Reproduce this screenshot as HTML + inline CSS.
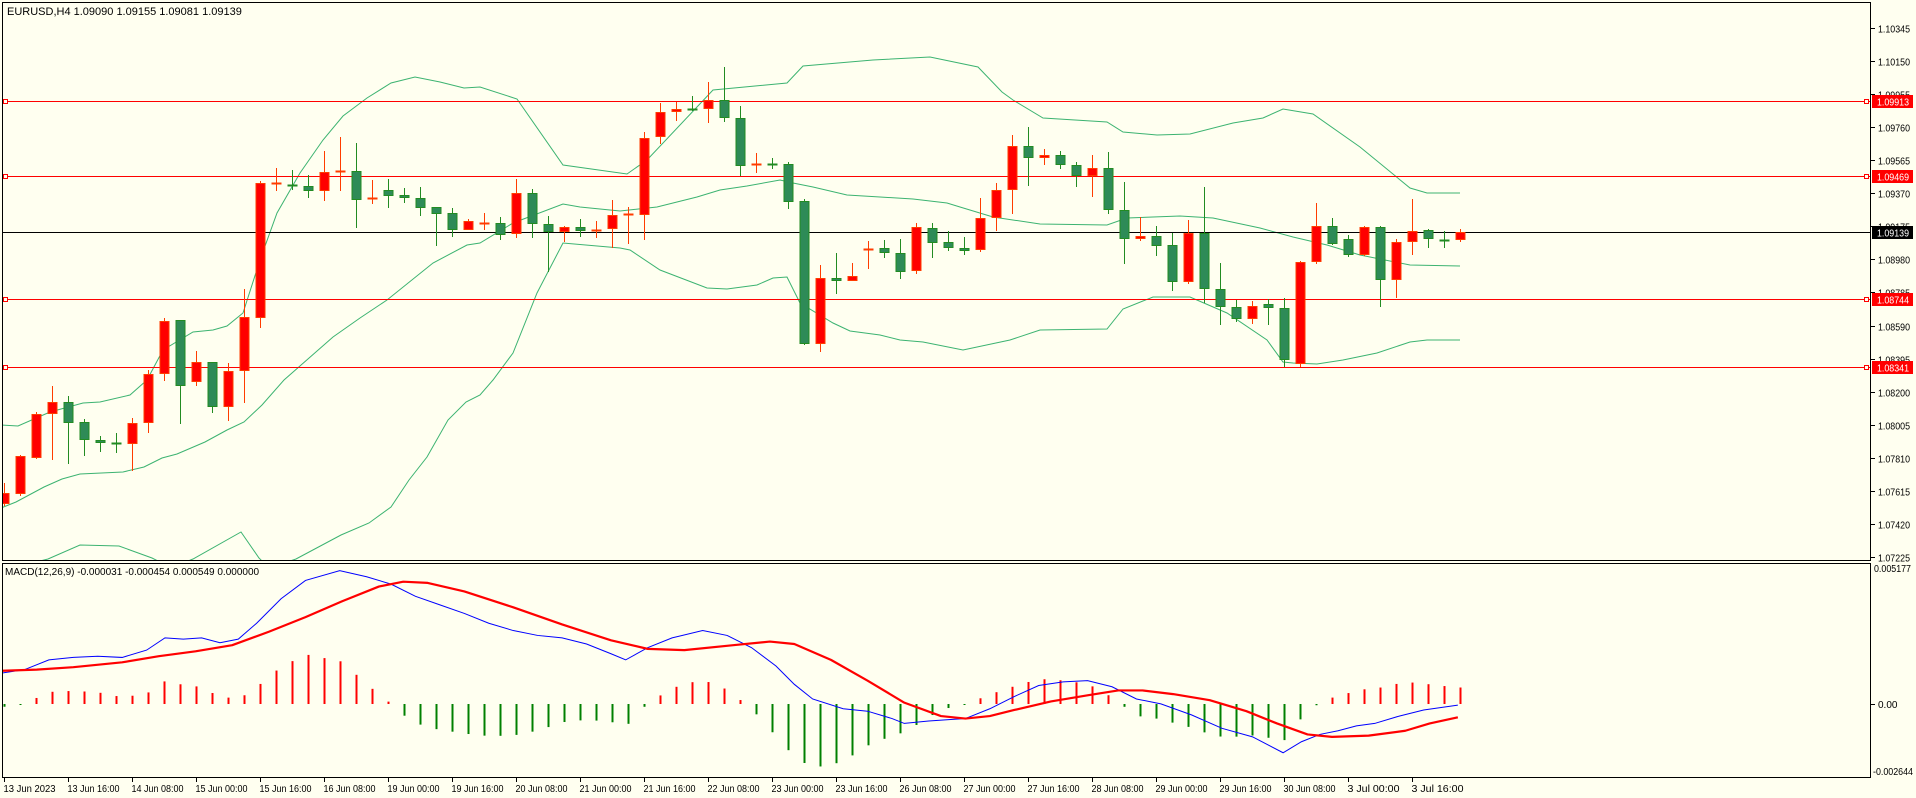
<!DOCTYPE html>
<html><head><meta charset="utf-8"><style>
html,body{margin:0;padding:0;background:#fffff0;}
svg{display:block;}
text{font-family:"Liberation Sans",sans-serif;}
</style></head><body>
<svg id="s" width="1916" height="798" xmlns="http://www.w3.org/2000/svg"></svg>
<script>
const S=document.getElementById('s');let h='';
h+='<rect x="0" y="0" width="1916" height="798" fill="#fffff0"/>';
const up=[[0,425],[18,426],[50,412],[83,403],[100,402],[130,395],[147,380],[163,350],[193,332],[213,330],[227,326],[243,313],[260,260],[277,213],[300,173],[323,140],[343,116],[367,98],[391,83],[415,77],[440,82],[464,88],[480,87],[517,99],[563,165],[627,174],[647,160],[713,90],[787,83],[803,66],[873,60],[930,57],[978,67],[1002,92],[1013,100],[1043,118],[1107,122],[1123,132],[1157,135],[1190,134],[1233,123],[1263,118],[1283,109],[1313,114],[1360,147],[1410,188],[1427,193],[1460,193]];
const mid=[[1,508],[16,502],[44,487],[62,479],[80,474],[123,472],[144,467],[162,458],[177,454],[205,442],[227,430],[244,422],[262,405],[284,380],[333,337],[360,318],[387,300],[433,263],[467,245],[480,243],[513,223],[563,204],[580,207],[620,211],[657,207],[697,197],[720,190],[747,186],[780,180],[793,183],[813,187],[847,195],[880,197],[913,199],[947,203],[960,207],[993,217],[1040,224],[1107,225],[1127,218],[1153,217],[1180,216],[1213,218],[1260,228],[1293,237],[1327,245],[1360,255],[1410,265],[1460,266]];
const lo1=[[40,561],[48,559],[80,545],[119,546],[152,558],[158,561]];
const lo2=[[188,561],[193,559],[241,532],[259,558],[262,561]];
const lo3=[[290,561],[296,559],[341,535],[369,523],[391,507],[409,480],[427,457],[448,420],[466,402],[480,395],[493,380],[513,353],[537,293],[563,243],[620,248],[630,250],[660,270],[707,288],[727,289],[757,285],[773,278],[787,277],[800,303],[833,323],[850,331],[880,335],[900,340],[923,342],[963,350],[1010,340],[1040,330],[1107,329],[1123,309],[1153,297],[1190,297],[1227,313],[1267,340],[1283,362],[1293,363],[1317,364],[1343,360],[1377,353],[1410,342],[1427,340],[1460,340]];
h+='<clipPath id="cp"><rect x="3" y="3" width="1867" height="557"/></clipPath><g clip-path="url(#cp)">';
for(const p of [up,mid,lo1,lo2,lo3]) h+='<polyline fill="none" stroke="#3cb371" stroke-width="1" points="'+p.map(a=>a.join(',')).join(' ')+'"/>';
h+='<line x1="3" x2="1870" y1="232.5" y2="232.5" stroke="#000" stroke-width="1"/>';
const hl=[101.5,176.5,299.5,367.5];
for(const y of hl){h+='<line x1="3" x2="1870" y1="'+y+'" y2="'+y+'" stroke="#ff0000" stroke-width="1"/>';
h+='<rect x="3.5" y="'+(y-2)+'" width="4" height="4" fill="#fffff0" stroke="#ff0000"/>';
h+='<rect x="1864.5" y="'+(y-2)+'" width="4" height="4" fill="#fffff0" stroke="#ff0000"/>';}
const C=[[493,504,483,506,'r'],[456,494,455,496,'r'],[414,458,412,459,'r'],[402,414,386,460,'r'],[402,423,396,464,'g'],[422,440,419,456,'g'],[440,443,436,452,'g'],[443,444,433,453,'g'],[423,444,418,471,'r'],[374,423,370,433,'r'],[321,374,318,381,'r'],[320,386,320,424,'g'],[362,382,351,386,'r'],[362,407,362,413,'g'],[371,407,363,421,'r'],[317,371,289,403,'r'],[183,318,181,328,'r'],[183,184,168,191,'r'],[185,186,170,190,'g'],[186,191,175,198,'g'],[172,191,151,201,'r'],[171,172,137,191,'r'],[171,200,143,228,'g'],[198,199,180,204,'r'],[190,196,179,208,'g'],[195,198,188,203,'g'],[198,208,187,216,'g'],[207,214,207,246,'g'],[213,230,208,237,'g'],[221,230,219,230,'r'],[223,224,213,230,'r'],[223,235,217,240,'g'],[193,234,179,238,'r'],[193,224,189,238,'g'],[224,232,216,272,'g'],[227,232,226,242,'r'],[227,231,219,237,'g'],[230,231,221,238,'r'],[215,229,200,248,'r'],[214,215,207,244,'r'],[138,215,132,240,'r'],[112,137,103,144,'r'],[109,112,102,121,'r'],[109,110,96,111,'g'],[100,109,82,123,'r'],[100,118,67,122,'g'],[118,166,106,176,'g'],[164,165,153,173,'r'],[164,165,158,169,'g'],[164,202,162,209,'g'],[201,344,199,345,'g'],[278,344,265,352,'r'],[278,281,253,294,'g'],[276,281,263,281,'r'],[249,250,241,269,'r'],[248,253,240,258,'g'],[253,272,239,279,'g'],[227,271,223,274,'r'],[228,243,223,258,'g'],[242,248,231,251,'g'],[248,251,237,255,'g'],[218,250,198,252,'r'],[190,218,183,231,'r'],[146,190,135,214,'r'],[146,158,127,186,'g'],[155,158,149,165,'r'],[155,165,151,169,'g'],[165,176,162,187,'g'],[168,176,155,197,'r'],[168,210,152,214,'g'],[210,239,182,264,'g'],[236,239,217,241,'r'],[236,246,226,256,'g'],[245,282,233,291,'g'],[233,282,220,284,'r'],[233,289,187,303,'g'],[289,307,263,325,'g'],[307,319,300,322,'g'],[306,319,301,324,'r'],[304,308,299,325,'g'],[308,360,298,367,'g'],[262,364,261,367,'r'],[226,262,203,264,'r'],[226,244,218,245,'g'],[239,255,235,257,'g'],[227,255,226,256,'r'],[227,280,226,307,'g'],[242,280,239,298,'r'],[231,242,199,255,'r'],[230,239,229,248,'g'],[240,241,231,248,'g'],[232,240,229,242,'r']];
C.forEach((c,i)=>{const x=Math.round(3.5+16*i)+0.5;const red=c[4]=='r';
const st=red?'#ff3c00':'#228b22',fl=red?'#ff0000':'#2e8b57';
h+='<line x1="'+x+'" x2="'+x+'" y1="'+c[2]+'" y2="'+c[3]+'" stroke="'+st+'"/>';
if(c[1]-c[0]<=1){h+='<rect x="'+(x-5)+'" y="'+(c[0]-0.5)+'" width="10" height="2" fill="'+st+'"/>';}
else h+='<rect x="'+(x-4.5)+'" y="'+(c[0]+0.5)+'" width="9" height="'+(c[1]-c[0]-1)+'" fill="'+fl+'" stroke="'+st+'"/>';});
h+='</g>';
h+='<rect x="2.5" y="2.5" width="1868" height="558" fill="none" stroke="#000"/>';
h+='<rect x="2.5" y="563.5" width="1868" height="214" fill="none" stroke="#000"/>';
for(let k=0;k<17;k++){const y=Math.round(28+k*33.06)+0.5;const p=(1.10345-k*0.00195).toFixed(5);
h+='<line x1="1871" x2="1875" y1="'+y+'" y2="'+y+'" stroke="#000"/>';
h+='<text x="1878" y="'+(y+4)+'" font-size="10.5" fill="#000" textLength="32" lengthAdjust="spacingAndGlyphs">'+p+'</text>';}
const labs=[[101.5,'1.09913','#ff0000'],[176.5,'1.09469','#ff0000'],[232.5,'1.09139','#000'],[299.5,'1.08744','#ff0000'],[367.5,'1.08341','#ff0000']];
for(const l of labs){h+='<rect x="1872" y="'+(l[0]-6.5)+'" width="41" height="13" fill="'+l[2]+'"/>';
h+='<text x="1877" y="'+(l[0]+4)+'" font-size="10.5" fill="#fff" textLength="32" lengthAdjust="spacingAndGlyphs">'+l[1]+'</text>';}
h+='<text x="7" y="15" font-size="11" fill="#000">EURUSD,H4  1.09090 1.09155 1.09081 1.09139</text>';
h+='<text x="5" y="575" font-size="10" fill="#000">MACD(12,26,9) -0.000031 -0.000454 0.000549 0.000000</text>';
h+='<text x="1874" y="572" font-size="10" fill="#000" textLength="37" lengthAdjust="spacingAndGlyphs">0.005177</text>';
h+='<line x1="1871" x2="1875" y1="704.5" y2="704.5" stroke="#000"/><text x="1878" y="708" font-size="10" fill="#000">0.00</text>';
h+='<text x="1873" y="775" font-size="10" fill="#000" textLength="40" lengthAdjust="spacingAndGlyphs">-0.002644</text>';
const B=[[0,551],[20,548],[40,540],[60,538],[80,537],[100,538],[120,532],[135,522],[150,523],[165,522],[180,526],[195,523],[210,510],[230,490],[250,475],[278,467],[300,472],[320,478],[340,488],[360,495],[380,502],[400,510],[420,516],[440,520],[460,522],[480,527],[500,535],[512,540],[530,530],[550,522],[575,516],[595,520],[615,530],[635,545],[650,560],[665,572],[690,580],[710,582],[730,588],[740,592],[760,590],[790,588],[810,580],[830,570],[850,561],[870,558],[890,557],[910,562],[930,572],[950,576],[975,585],[1000,596],[1025,603],[1050,616],[1065,607],[1080,601],[1095,598],[1110,594],[1125,592],[1145,586],[1165,581],[1193,577]];
const R=[[0,549],[30,548],[60,546],[100,542],[130,537],[160,533],[190,528],[220,517],[250,505],[280,492],[310,480],[330,476],[350,477],[380,484],[420,497],[460,511],[500,524],[530,531],[560,532],[600,528],[630,525],[650,527],[680,540],[710,557],[740,575],[770,586],[790,588],[810,586],[830,581],[860,574],[890,569],[915,565],[935,565],[960,568],[990,573],[1020,582],[1045,592],[1070,601],[1090,603],[1120,602],[1150,598],[1170,592],[1193,587]];
const K=1.222;
function it(a,x){for(let i=1;i<a.length;i++){if(x<=a[i][0]){const t=(x-a[i-1][0])/(a[i][0]-a[i-1][0]);return a[i-1][1]+t*(a[i][1]-a[i-1][1]);}}return a[a.length-1][1];}
h+='<clipPath id="cm"><rect x="3" y="564" width="1867" height="213"/></clipPath><g clip-path="url(#cm)">';
for(let i=0;i<92;i++){const xo=3.5+16*i,xd=xo/K;const d=(it(R,xd)-it(B,xd))*K*1.35;
const x=Math.round(xo)+0.5;if(Math.abs(d)<0.8){h+='<rect x="'+(x-1)+'" y="704" width="2" height="1" fill="'+(d>=0?'#ff0000':'#008000')+'"/>';continue;}
const y1=d>0?704-d:704,hh=Math.abs(d);
h+='<rect x="'+(x-1)+'" y="'+y1+'" width="2" height="'+hh+'" fill="'+(d>0?'#ff0000':'#008000')+'"/>';}
h+='<polyline fill="none" stroke="#0000ff" stroke-width="1" points="'+B.map(a=>(a[0]*K)+','+(a[1]*K)).join(' ')+'"/>';
h+='<polyline fill="none" stroke="#ff0000" stroke-width="2.2" stroke-linejoin="round" points="'+R.map(a=>(a[0]*K)+','+(a[1]*K)).join(' ')+'"/>';
h+='</g>';
const T=['13 Jun 2023','13 Jun 16:00','14 Jun 08:00','15 Jun 00:00','15 Jun 16:00','16 Jun 08:00','19 Jun 00:00','19 Jun 16:00','20 Jun 08:00','21 Jun 00:00','21 Jun 16:00','22 Jun 08:00','23 Jun 00:00','23 Jun 16:00','26 Jun 08:00','27 Jun 00:00','27 Jun 16:00','28 Jun 08:00','29 Jun 00:00','29 Jun 16:00','30 Jun 08:00','3 Jul 00:00','3 Jul 16:00'];
T.forEach((t,k)=>{const x=Math.round(3.5+64*k)+0.5;
h+='<line x1="'+x+'" x2="'+x+'" y1="778" y2="782" stroke="#000"/>';
h+='<text x="'+(x-1)+'" y="792" font-size="10" fill="#000" textLength="'+(t.length>10?52:44)+'" lengthAdjust="spacingAndGlyphs">'+t+'</text>';});
S.innerHTML=h;
</script>
</body></html>
